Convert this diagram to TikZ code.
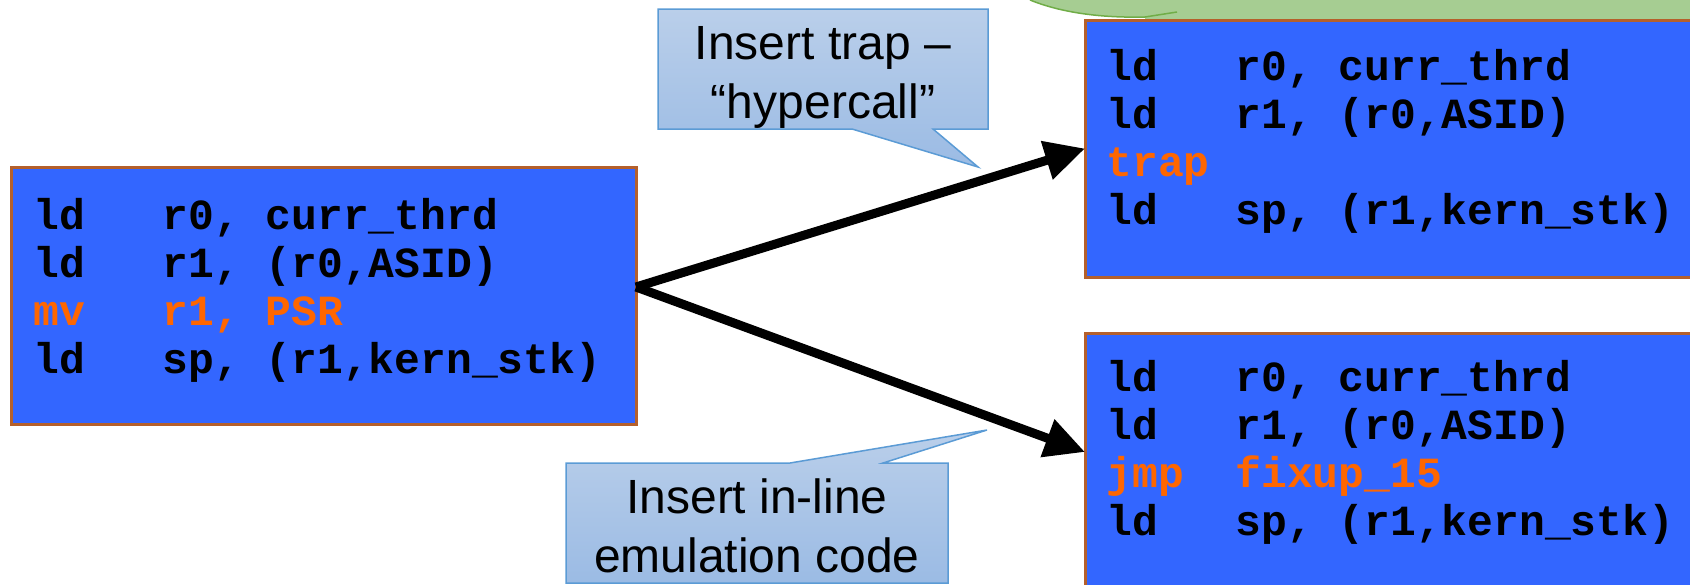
\documentclass[tikz,border=0pt]{standalone}
\usepackage{fontspec}
\setmainfont{Liberation Sans}
\newfontfamily\codefont{Liberation Mono}
\usetikzlibrary{arrows.meta}

\definecolor{codebg}{HTML}{3366FF}
\definecolor{codeframe}{HTML}{B5602B}
\definecolor{hilite}{HTML}{FF6600}
\definecolor{notefill}{HTML}{A6CD92}
\definecolor{noteedge}{HTML}{70AD47}
\definecolor{tiptop}{HTML}{BACFEA}
\definecolor{tipbot}{HTML}{9BBBE4}
\definecolor{tipedge}{HTML}{5B9BD5}

\begin{document}
\begin{tikzpicture}[x=0.5pt,y=-0.5pt,
  codebox/.style={draw=codeframe, line width=1.5pt, fill=codebg,
    anchor=north west, inner sep=0pt, outer sep=0pt},
  codeline/.style={anchor=base west, inner sep=0pt, text=black,
    font=\codefont\bfseries\fontsize{21.5}{24}\selectfont},
  hot/.style={codeline, text=hilite},
  bigarrow/.style={line width=4.5pt, -{Triangle[length=20pt,width=19pt]}},
  calloutshape/.style={top color=tiptop, bottom color=tipbot,
    draw=tipedge, line width=0.75pt, line join=miter},
  callouttext/.style={anchor=base, inner sep=0pt, font=\fontsize{24}{29.5}\selectfont}
]
\useasboundingbox (0,0) rectangle (1690,584);
\clip (0,0) rectangle (1690,584);

% green note peeking in at the top right
\fill[notefill] (1030,0) .. controls (1062,13) and (1102,18) .. (1145,17)
  -- (1150,60) -- (1700,60) -- (1700,-5) -- (1025,-5) -- cycle;
\draw[noteedge, line width=0.75pt] (1030,0) .. controls (1062,13) and (1102,18) .. (1145,17)
  -- (1177,12);

% code blocks
\node[codebox, minimum width=312.5pt, minimum height=128.5pt] (src) at (11,167) {};
\node[codebox, minimum width=320pt, minimum height=128.5pt] (trapped) at (1085,20) {};
\node[codebox, minimum width=320pt, minimum height=150pt] (inlined) at (1085,333) {};

% original sequence
\node[codeline] (s1) at (33,229) {ld\ \ \ r0,\ curr\_thrd};
\node[codeline] (s2) at (33,277) {ld\ \ \ r1,\ (r0,ASID)};
\node[hot]      (s3) at (33,325) {mv\ \ \ r1,\ PSR};
\node[codeline] (s4) at (33,373) {ld\ \ \ sp,\ (r1,kern\_stk)};

% rewritten with a trap
\node[codeline] (t1) at (1106,80)  {ld\ \ \ r0,\ curr\_thrd};
\node[codeline] (t2) at (1106,128) {ld\ \ \ r1,\ (r0,ASID)};
\node[hot]      (t3) at (1106,176) {trap};
\node[codeline] (t4) at (1106,224) {ld\ \ \ sp,\ (r1,kern\_stk)};

% rewritten with in-line emulation
\node[codeline] (i1) at (1106,391) {ld\ \ \ r0,\ curr\_thrd};
\node[codeline] (i2) at (1106,439) {ld\ \ \ r1,\ (r0,ASID)};
\node[hot]      (i3) at (1106,487) {jmp\ \ fixup\_15};
\node[codeline] (i4) at (1106,535) {ld\ \ \ sp,\ (r1,kern\_stk)};

% arrows
\coordinate (fork) at (src.east |- 0,287);
\coordinate (inlinedin) at (inlined.west |- 0,452);
\draw[bigarrow] (fork) -- (trapped.west);
\draw[bigarrow] (fork) -- (inlinedin);

% callouts
\draw[calloutshape] (658,9) -- (988,9) -- (988,129) -- (933,129) -- (978,167)
  -- (852,129) -- (658,129) -- cycle;
\node[callouttext] (trapA) at (823,59) {Insert trap --};
\node[callouttext] (trapB) at (823,118) {``hypercall''};

\draw[calloutshape] (566,463) -- (790,463) -- (987,430) -- (883,463) -- (948,463)
  -- (948,583) -- (566,583) -- cycle;
\node[callouttext] (emuA) at (757,513) {Insert in-line};
\node[callouttext] (emuB) at (757,572) {emulation code};
\end{tikzpicture}
\end{document}
